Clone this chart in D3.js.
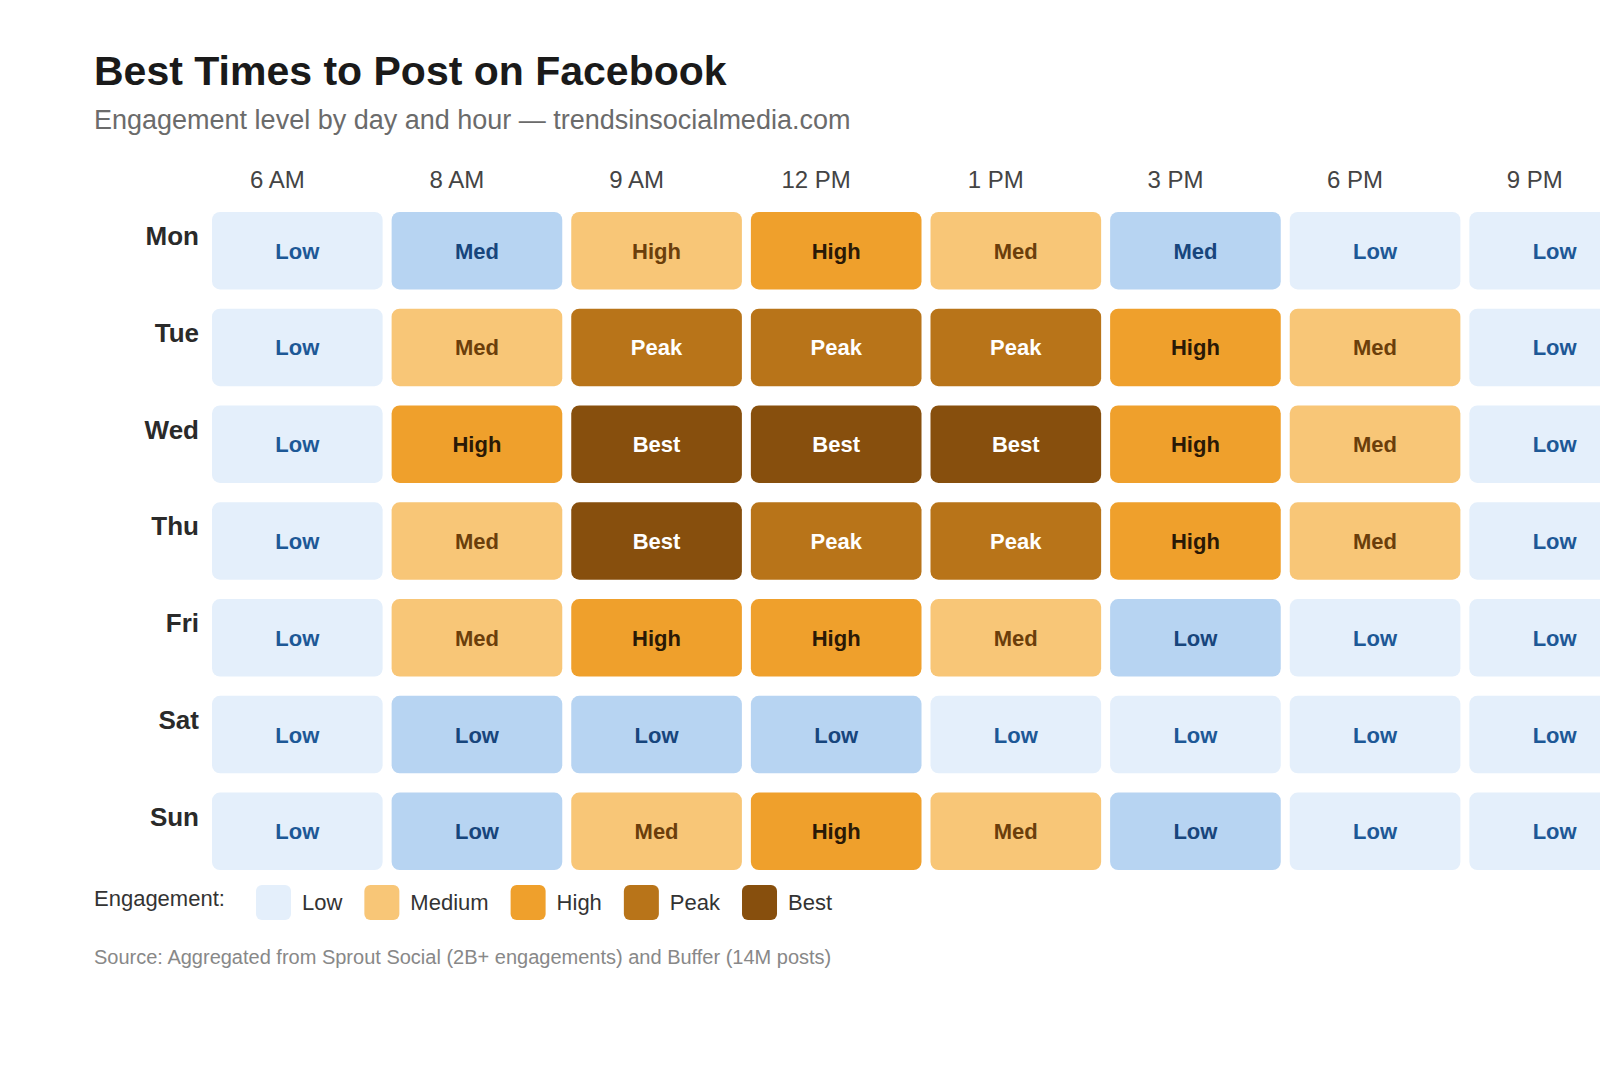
<!DOCTYPE html>
<html><head><meta charset="utf-8">
<script src="https://cdn.jsdelivr.net/npm/d3@7"></script>
<style>body{margin:0;background:#fff;font-family:"Liberation Sans",Arial,sans-serif;}</style>
</head><body>
<svg id="chart" width="1600" height="1083"></svg>
<script>
const days = ['Mon', 'Tue', 'Wed', 'Thu', 'Fri', 'Sat', 'Sun'];
const hours = ['6 AM', '8 AM', '9 AM', '12 PM', '1 PM', '3 PM', '6 PM', '9 PM'];
// level per cell: 0 light blue, 1 blue, 2 light orange, 3 orange, 4 peak, 5 best
const levels = [
  [0, 1, 2, 3, 2, 1, 0, 0],
  [0, 2, 4, 4, 4, 3, 2, 0],
  [0, 3, 5, 5, 5, 3, 2, 0],
  [0, 2, 5, 4, 4, 3, 2, 0],
  [0, 2, 3, 3, 2, 1, 0, 0],
  [0, 1, 1, 1, 0, 0, 0, 0],
  [0, 1, 2, 3, 2, 1, 0, 0]
];
const labels = [
  ['Low', 'Med', 'High', 'High', 'Med', 'Med', 'Low', 'Low'],
  ['Low', 'Med', 'Peak', 'Peak', 'Peak', 'High', 'Med', 'Low'],
  ['Low', 'High', 'Best', 'Best', 'Best', 'High', 'Med', 'Low'],
  ['Low', 'Med', 'Best', 'Peak', 'Peak', 'High', 'Med', 'Low'],
  ['Low', 'Med', 'High', 'High', 'Med', 'Low', 'Low', 'Low'],
  ['Low', 'Low', 'Low', 'Low', 'Low', 'Low', 'Low', 'Low'],
  ['Low', 'Low', 'Med', 'High', 'Med', 'Low', 'Low', 'Low']
];
const legendItems = [['Low', 0], ['Medium', 2], ['High', 3], ['Peak', 4], ['Best', 5]];

const fills = ['#e4effb', '#b7d4f2', '#f8c677', '#efa02c', '#b87419', '#874f0d'];
const inks = ['#1d5896', '#17457c', '#6b3e0b', '#2a1906', '#ffffff', '#ffffff'];

const svg = d3.select('#chart');

svg.append('text').attr('x', 94).attr('y', 85)
  .attr('font-size', 41).attr('font-weight', 'bold').attr('fill', '#1a1a1a')
  .text('Best Times to Post on Facebook');
svg.append('text').attr('x', 94).attr('y', 129)
  .attr('font-size', 27).attr('fill', '#6b6b6b')
  .text('Engagement level by day and hour — trendsinsocialmedia.com');

const x = d3.scaleBand().domain(hours).range([212, 212 + 178.5 * 8]).paddingInner(0.05).paddingOuter(0);
const y = d3.scaleBand().domain(days).range([212, 212 + 94 * 7]).paddingInner(0.2);

svg.append('g').selectAll('text').data(hours).join('text')
  .attr('x', d => x(d) + x.bandwidth() / 2 - 20).attr('y', 188)
  .attr('text-anchor', 'middle').attr('font-size', 24).attr('fill', '#444')
  .text(d => d);

svg.append('g').selectAll('text').data(days).join('text')
  .attr('x', 199).attr('y', d => y(d) + 33)
  .attr('text-anchor', 'end').attr('font-size', 26).attr('font-weight', 'bold').attr('fill', '#2a2a2a')
  .text(d => d);

const cells = [];
days.forEach((d, r) => hours.forEach((h, c) => cells.push({ d, h, lv: levels[r][c], label: labels[r][c] })));

const g = svg.append('g');
g.selectAll('rect').data(cells).join('rect')
  .attr('x', d => x(d.h)).attr('y', d => y(d.d))
  .attr('width', x.bandwidth()).attr('height', y.bandwidth())
  .attr('rx', 8).attr('fill', d => fills[d.lv]);
g.selectAll('text').data(cells).join('text')
  .attr('x', d => x(d.h) + x.bandwidth() / 2).attr('y', d => y(d.d) + y.bandwidth() / 2 + 8)
  .attr('text-anchor', 'middle').attr('font-size', 22).attr('font-weight', 'bold')
  .attr('fill', d => inks[d.lv]).text(d => d.label);

const leg = svg.append('g');
leg.append('text').attr('x', 94).attr('y', 906).attr('font-size', 22).attr('fill', '#333').text('Engagement:');
let lx = 256;
legendItems.forEach(([name, lv]) => {
  leg.append('rect').attr('x', lx).attr('y', 885).attr('width', 35).attr('height', 35)
    .attr('rx', 6).attr('fill', fills[lv]);
  const t = leg.append('text').attr('x', lx + 46).attr('y', 910).attr('font-size', 22).attr('fill', '#333').text(name);
  lx += 46 + t.node().getComputedTextLength() + 22;
});

svg.append('text').attr('x', 94).attr('y', 964).attr('font-size', 20).attr('fill', '#888')
  .text('Source: Aggregated from Sprout Social (2B+ engagements) and Buffer (14M posts)');
</script>
</body></html>
